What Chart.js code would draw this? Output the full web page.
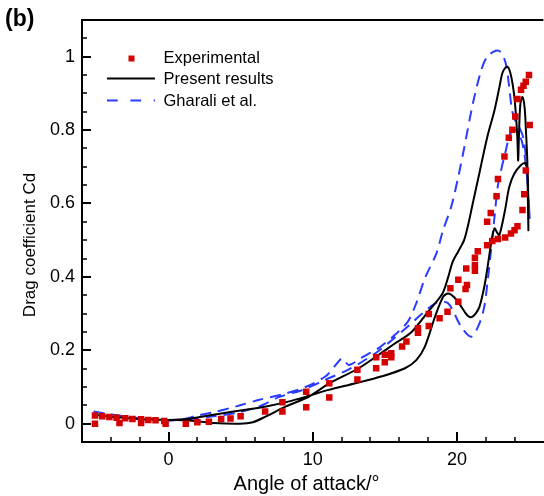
<!DOCTYPE html>
<html><head><meta charset="utf-8">
<script src="https://cdn.jsdelivr.net/npm/chart.js@4.4.1/dist/chart.umd.min.js"></script>
<style>
html,body{margin:0;padding:0;background:#fff;overflow:hidden;width:544px;height:496px}
#wrap{position:relative;width:548px;height:496px}
</style>
</head><body><div id="wrap"><canvas id="c"></canvas></div>
<script>
// ---- tick labels / minor ticks ----
const xTicks = [0, 10, 20];
const xMinor = [-4, -2, 2, 4, 6, 8, 12, 14, 16, 18, 22, 24];
const yTicks = [0, 0.2, 0.4, 0.6, 0.8, 1];
const yMinor = [0.05, 0.1, 0.15, 0.25, 0.3, 0.35, 0.45, 0.5, 0.55, 0.65, 0.7, 0.75, 0.85, 0.9, 0.95, 1.05];

// ---- Experimental (red squares) ----
const expAlpha = [-5.1,-5.1,-4.6,-4.1,-3.6,-3.4,-3.0,-2.5,-1.9,-1.9,-1.4,-0.9,-0.2,-0.3,
  1.2,2.0,2.8,3.65,4.3,5.0,6.7,7.9,7.9,9.55,9.55,11.15,11.15,13.1,13.1,14.4,14.4,15.0,15.0,15.45,15.45,
  16.2,16.5,17.3,17.3,18.05,18.05,18.8,19.35,19.55,20.1,20.1,20.6,20.7,20.65,21.25,21.25,21.25,21.45,
  22.1,22.1,22.35,22.45,22.75,22.85,22.85,23.3,23.35,23.6,23.75,23.85,24.0,24.05,24.2,24.2,24.45,24.55,
  24.62,24.67,24.78,24.78,25.0,25.05];
const expCd = [0.022,0.0,0.020,0.018,0.016,0.002,0.015,0.013,0.002,0.012,0.010,0.009,0.0,0.007,
  0.0,0.004,0.005,0.013,0.014,0.02,0.033,0.033,0.058,0.045,0.087,0.071,0.11,0.12,0.147,0.151,0.181,0.167,0.188,0.181,0.192,
  0.21,0.224,0.248,0.26,0.266,0.299,0.287,0.305,0.369,0.332,0.392,0.367,0.378,0.423,0.417,0.432,0.452,0.47,
  0.486,0.55,0.574,0.498,0.62,0.503,0.667,0.728,0.507,0.779,0.518,0.801,0.527,0.837,0.538,0.885,0.91,0.582,
  0.921,0.625,0.69,0.932,0.95,0.814];

// ---- Present results (black loop) ----
const presAlpha = [-5.1,-4,-3,-2,-1,0,0.8,2,3.56,5,6.77,8.3,9.75,11.1,12.97,14.8,16.4,17.2,17.78,18.47,19.04,19.39,19.8,20.3,20.7,21.0,21.3,21.57,21.9,22.14,22.37,22.6,22.8,22.95,23.33,23.63,23.98,24.43,24.71,24.9,24.94,24.96,
  24.92,24.88,24.8,24.7,24.55,24.4,24.3,24.25,24.2,24.09,23.93,23.7,23.47,23.17,22.95,22.6,22.1,21.6,21.1,20.8,20.5,20.1,19.7,19.4,19.0,18.0,16.86,15.72,14.57,13.19,11.12,9.75,8.15,6.77,5.85,4.93,3.1,1.27,0.2];
const presCd = [0.024,0.019,0.016,0.013,0.011,0.010,0.011,0.017,0.027,0.036,0.047,0.06,0.076,0.092,0.11,0.129,0.151,0.174,0.21,0.29,0.345,0.355,0.345,0.319,0.296,0.29,0.30,0.319,0.373,0.43,0.49,0.532,0.52,0.514,0.58,0.645,0.681,0.704,0.71,0.69,0.609,0.527,
  0.62,0.72,0.79,0.86,0.89,0.87,0.78,0.717,0.772,0.844,0.908,0.957,0.973,0.957,0.917,0.853,0.78,0.69,0.6,0.545,0.5,0.47,0.44,0.40,0.355,0.305,0.25,0.219,0.1875,0.151,0.109,0.074,0.047,0.02,0.004,0.0,0.002,0.009,0.010];

// ---- Gharali et al. (blue dashed loop) ----
const ghAlpha = [-5.2,-4,-3,-2,-1,0,1,2,3.1,4.7,6.3,7.9,9.5,10.9,11.6,12.05,12.5,13.4,14.57,15.7,16.6,17.2,17.78,18.58,19.04,19.6,20.07,20.5,21.1,21.68,22.1,22.7,23.06,23.4,23.63,23.8,24.0,24.3,24.6,24.8,24.95,25.05,
  24.95,24.8,24.5,24.1,23.7,23.4,23.06,22.83,22.6,22.37,22.14,21.9,21.57,21.0,20.3,19.39,18.6,17.6,16.6,15.5,14.5,13.4,12.4,10.9,9.3,7.7,6.3,4.7,3.1,1.5,0.3];
const ghCd = [0.033,0.025,0.02,0.015,0.012,0.008,0.012,0.022,0.031,0.047,0.065,0.08,0.10,0.129,0.16,0.178,0.16,0.18,0.206,0.242,0.278,0.33,0.396,0.464,0.527,0.59,0.668,0.75,0.871,0.962,1.0,1.016,1.012,0.98,0.917,0.86,0.83,0.81,0.78,0.72,0.63,0.56,
  0.62,0.70,0.77,0.80,0.79,0.745,0.69,0.645,0.56,0.473,0.391,0.319,0.274,0.237,0.264,0.328,0.33,0.30,0.265,0.228,0.196,0.168,0.146,0.12,0.092,0.073,0.047,0.029,0.02,0.013,0.009];

const zip = (a, b) => a.map((v, i) => ({x: v, y: b[i]}));
const FONT = "'Liberation Sans', Arial, Helvetica, sans-serif";

const decor = {
  id: 'decor',
  afterDraw(chart) {
    const ctx = chart.ctx, ca = chart.chartArea;
    const xs = chart.scales.x, ys = chart.scales.y;
    ctx.save();
    ctx.strokeStyle = '#000';
    ctx.lineCap = 'butt';
    // top frame line
    ctx.lineWidth = 2;
    ctx.beginPath(); ctx.moveTo(ca.left - 1, ca.top); ctx.lineTo(ca.right, ca.top); ctx.stroke();
    // inward ticks
    const tick = (vals, len, w, axis) => {
      ctx.lineWidth = w;
      ctx.beginPath();
      vals.forEach(v => {
        if (axis === 'x') { const p = Math.round(xs.getPixelForValue(v)); ctx.moveTo(p, ca.bottom); ctx.lineTo(p, ca.bottom - len); }
        else { const p = Math.round(ys.getPixelForValue(v)); ctx.moveTo(ca.left, p); ctx.lineTo(ca.left + len, p); }
      });
      ctx.stroke();
    };
    tick(xTicks, 10, 2, 'x'); tick(xMinor, 5, 1.5, 'x');
    tick(yTicks, 9, 2, 'y'); tick(yMinor, 5, 1.5, 'y');
    // axis titles & panel label
    ctx.fillStyle = '#000';
    ctx.textBaseline = 'alphabetic';
    ctx.font = '20px ' + FONT; ctx.textAlign = 'center';
    ctx.fillText('Angle of attack/°', 306.5, 490);
    ctx.save(); ctx.translate(34.5, 245); ctx.rotate(-Math.PI / 2);
    ctx.font = '17px ' + FONT; ctx.fillText('Drag coefficient Cd', 0, 0); ctx.restore();
    ctx.font = 'bold 23px ' + FONT; ctx.textAlign = 'left';
    ctx.fillText('(b)', 5, 26);
    // legend
    const ds = chart.data.datasets;
    ctx.font = '16.5px ' + FONT; ctx.textBaseline = 'middle'; ctx.textAlign = 'left';
    ctx.fillStyle = ds[0].backgroundColor;
    ctx.fillRect(128.5, 55.5, 6, 6);
    ctx.lineWidth = 2; ctx.strokeStyle = ds[1].borderColor; ctx.setLineDash([]);
    ctx.beginPath(); ctx.moveTo(107, 78.5); ctx.lineTo(155, 78.5); ctx.stroke();
    ctx.strokeStyle = ds[2].borderColor; ctx.setLineDash([10.7, 12.7]);
    ctx.beginPath(); ctx.moveTo(107, 100.5); ctx.lineTo(155, 100.5); ctx.stroke();
    ctx.setLineDash([]);
    ctx.fillStyle = '#000';
    ctx.fillText(ds[0].label, 163.5, 58.5);
    ctx.fillText(ds[1].label, 163.5, 79);
    ctx.fillText(ds[2].label, 163.5, 101);
    ctx.restore();
  }
};

new Chart(document.getElementById('c'), {
  type: 'scatter',
  data: {
    datasets: [
      { label: 'Experimental', data: zip(expAlpha, expCd), showLine: false,
        pointStyle: 'rect', pointRadius: 4.6, backgroundColor: '#d50000', borderWidth: 0 },
      { label: 'Present results', data: zip(presAlpha, presCd), showLine: true,
        borderColor: '#000000', borderWidth: 2, pointRadius: 0, tension: 0.3, fill: false },
      { label: 'Gharali et al.', data: zip(ghAlpha, ghCd), showLine: true,
        borderColor: '#2b3cff', borderWidth: 2, borderDash: [11, 7], pointRadius: 0, tension: 0.3, fill: false }
    ]
  },
  options: {
    responsive: true, maintainAspectRatio: false, animation: false, devicePixelRatio: 1, events: [],
    layout: { padding: { left: 0, top: 20, right: 2, bottom: 0 } },
    plugins: { legend: { display: false }, tooltip: { enabled: false } },
    scales: {
      x: {
        type: 'linear', min: -6, max: 26,
        afterBuildTicks: s => { s.ticks = xTicks.map(v => ({ value: v })); },
        afterFit: s => { s.height = 54; },
        grid: { display: false, drawTicks: false },
        border: { display: true, color: '#000', width: 2 },
        ticks: { color: '#000', font: { family: FONT, size: 18 }, padding: 7, maxRotation: 0,
                 callback: v => String(v) }
      },
      y: {
        type: 'linear', min: -0.05, max: 1.1,
        afterBuildTicks: s => { s.ticks = yTicks.map(v => ({ value: v })); },
        afterFit: s => { s.width = 82; },
        grid: { display: false, drawTicks: false },
        border: { display: true, color: '#000', width: 2 },
        ticks: { color: '#000', font: { family: FONT, size: 18 }, padding: 7,
                 callback: v => String(+Number(v).toFixed(2)) }
      }
    }
  },
  plugins: [decor]
});
</script>
</body></html>
